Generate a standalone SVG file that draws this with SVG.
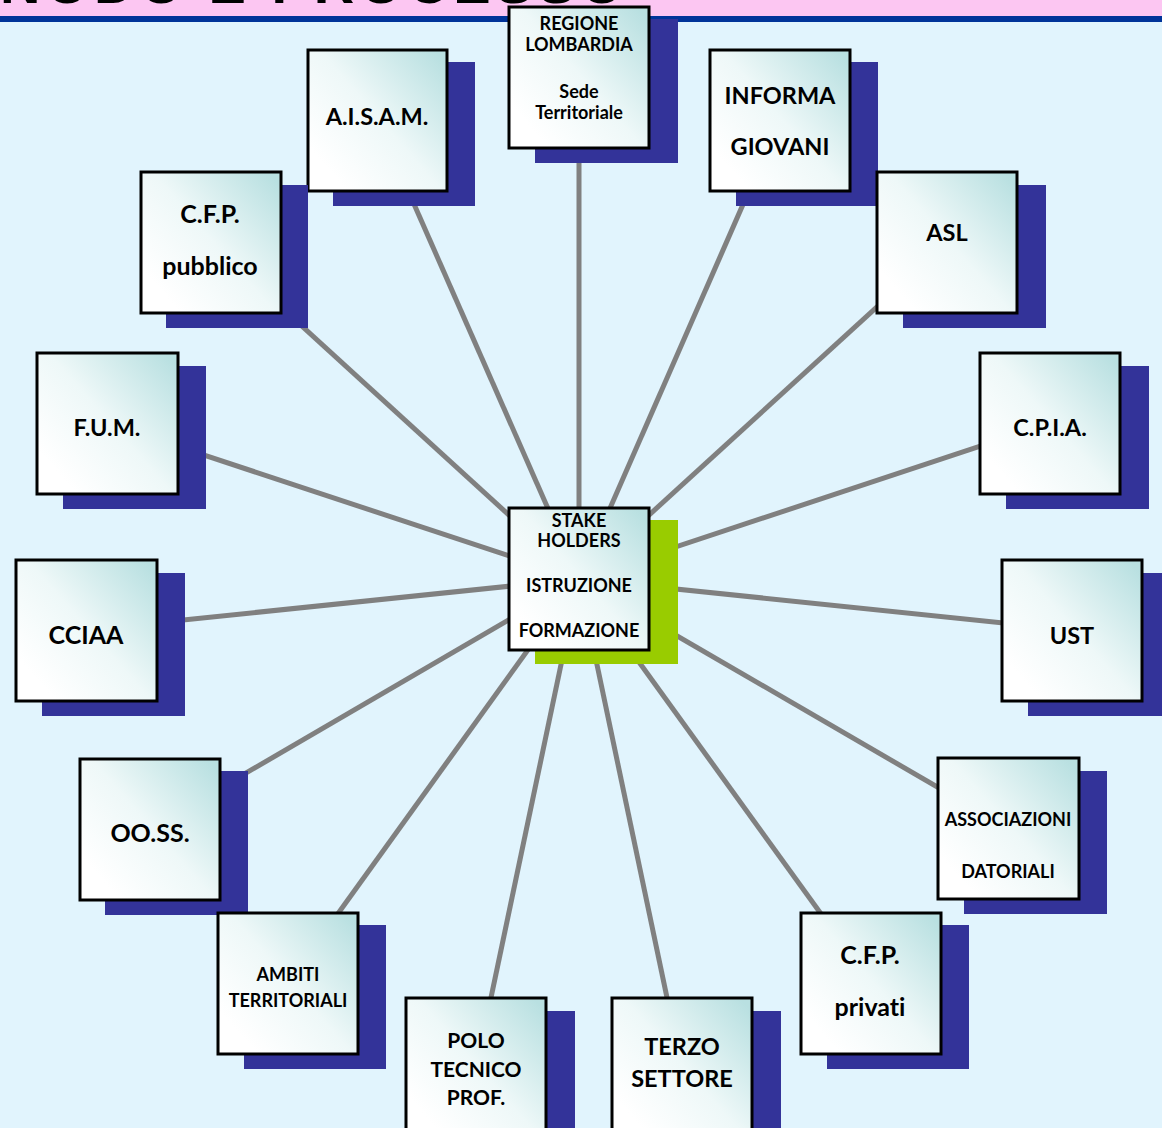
<svg xmlns="http://www.w3.org/2000/svg" width="1162" height="1128" viewBox="0 0 1162 1128">
<defs>
<linearGradient id="g" x1="0.15" y1="0.85" x2="1" y2="0.1">
<stop offset="0" stop-color="#ffffff"/>
<stop offset="0.45" stop-color="#eef8f8"/>
<stop offset="1" stop-color="#b9e0e1"/>
</linearGradient>
<style>
.box{fill:url(#g);stroke:#000;stroke-width:3}
.sh{fill:#333399}
.t{font-family:Lato,"Open Sans",sans-serif;font-weight:700;fill:#000;text-anchor:middle;font-variant-ligatures:none}
.s17{font-size:18px}.s20{font-size:21px}.s22{font-size:23.5px}.s24{font-size:25px}
.c line{stroke:#808080;stroke-width:5}
</style>
</defs>
<rect width="1162" height="1128" fill="#e1f4fd"/>
<rect width="1162" height="17" fill="#fcc6f2"/>
<rect y="16" width="1162" height="6" fill="#003399"/>
<text x="0" y="3" font-family="Liberation Sans, sans-serif" font-weight="700" font-size="56" letter-spacing="5" fill="#000">NODO E PROCESSO</text>
<g class="c">
<line x1="579" y1="579" x2="579" y2="78"/>
<line x1="579" y1="579" x2="377" y2="120"/>
<line x1="579" y1="579" x2="780" y2="120"/>
<line x1="579" y1="579" x2="211" y2="243"/>
<line x1="579" y1="579" x2="947" y2="243"/>
<line x1="579" y1="579" x2="107" y2="423"/>
<line x1="579" y1="579" x2="1050" y2="423"/>
<line x1="579" y1="579" x2="86" y2="630"/>
<line x1="579" y1="579" x2="1072" y2="630"/>
<line x1="579" y1="579" x2="150" y2="829"/>
<line x1="579" y1="579" x2="1008" y2="828"/>
<line x1="579" y1="579" x2="288" y2="983"/>
<line x1="579" y1="579" x2="871" y2="983"/>
<line x1="579" y1="579" x2="476" y2="1069"/>
<line x1="579" y1="579" x2="682" y2="1069"/>
</g>
<g id="regione"><rect class="sh" x="535" y="19" width="143" height="144"/><rect class="box" x="509" y="7" width="140" height="141"/>
<text class="t s17" x="579" y="30">REGIONE</text><text class="t s17" x="579" y="51">LOMBARDIA</text><text class="t s17" x="579" y="98">Sede</text><text class="t s17" x="579" y="119">Territoriale</text></g>
<g id="aisam"><rect class="sh" x="333" y="62" width="142" height="144"/><rect class="box" x="308" y="50" width="139" height="141"/>
<text class="t s22" x="377" y="125">A.I.S.A.M.</text></g>
<g id="informa"><rect class="sh" x="736" y="62" width="142" height="144"/><rect class="box" x="710" y="50" width="140" height="141"/>
<text class="t s22" x="780" y="104">INFORMA</text><text class="t s22" x="780" y="155">GIOVANI</text></g>
<g id="cfp-pubblico"><rect class="sh" x="166" y="185" width="142" height="143"/><rect class="box" x="141" y="172" width="140" height="141"/>
<text class="t s24" x="210" y="223">C.F.P.</text><text class="t s24" x="210" y="275">pubblico</text></g>
<g id="asl"><rect class="sh" x="903" y="185" width="143" height="143"/><rect class="box" x="877" y="172" width="140" height="141"/>
<text class="t s22" x="947" y="241">ASL</text></g>
<g id="fum"><rect class="sh" x="63" y="366" width="143" height="143"/><rect class="box" x="37" y="353" width="141" height="141"/>
<text class="t s22" x="107" y="436">F.U.M.</text></g>
<g id="cpia"><rect class="sh" x="1006" y="366" width="143" height="143"/><rect class="box" x="980" y="353" width="140" height="141"/>
<text class="t s22" x="1050" y="436">C.P.I.A.</text></g>
<g id="cciaa"><rect class="sh" x="42" y="573" width="143" height="143"/><rect class="box" x="16" y="560" width="141" height="141"/>
<text class="t s24" x="86" y="644">CCIAA</text></g>
<g id="ust"><rect class="sh" x="1028" y="573" width="134" height="143"/><rect class="box" x="1002" y="560" width="140" height="141"/>
<text class="t s22" x="1072" y="644">UST</text></g>
<g id="center"><rect x="535" y="520" width="143" height="144" fill="#99cc00"/><rect class="box" x="509" y="508" width="140" height="142"/>
<text class="t s17" x="579" y="527">STAKE</text><text class="t s17" x="579" y="547">HOLDERS</text><text class="t s17" x="579" y="592">ISTRUZIONE</text><text class="t s17" x="579" y="637">FORMAZIONE</text></g>
<g id="ooss"><rect class="sh" x="105" y="771" width="143" height="144"/><rect class="box" x="80" y="759" width="140" height="141"/>
<text class="t s24" x="150" y="842">OO.SS.</text></g>
<g id="associazioni"><rect class="sh" x="964" y="771" width="143" height="143"/><rect class="box" x="938" y="758" width="141" height="141"/>
<text class="t s17" x="1008" y="826">ASSOCIAZIONI</text><text class="t s17" x="1008" y="878">DATORIALI</text></g>
<g id="ambiti"><rect class="sh" x="244" y="925" width="142" height="144"/><rect class="box" x="218" y="913" width="140" height="141"/>
<text class="t s17" x="288" y="981">AMBITI</text><text class="t s17" x="288" y="1007">TERRITORIALI</text></g>
<g id="cfp-privati"><rect class="sh" x="827" y="925" width="142" height="144"/><rect class="box" x="801" y="913" width="140" height="141"/>
<text class="t s24" x="870" y="964">C.F.P.</text><text class="t s24" x="870" y="1016">privati</text></g>
<g id="polo"><rect class="sh" x="432" y="1011" width="143" height="144"/><rect class="box" x="406" y="998" width="140" height="141"/>
<text class="t s20" x="476" y="1048">POLO</text><text class="t s20" x="476" y="1077">TECNICO</text><text class="t s20" x="476" y="1105">PROF.</text></g>
<g id="terzo"><rect class="sh" x="638" y="1011" width="143" height="144"/><rect class="box" x="612" y="998" width="140" height="141"/>
<text class="t s22" x="682" y="1055">TERZO</text><text class="t s22" x="682" y="1087">SETTORE</text></g>
</svg>
